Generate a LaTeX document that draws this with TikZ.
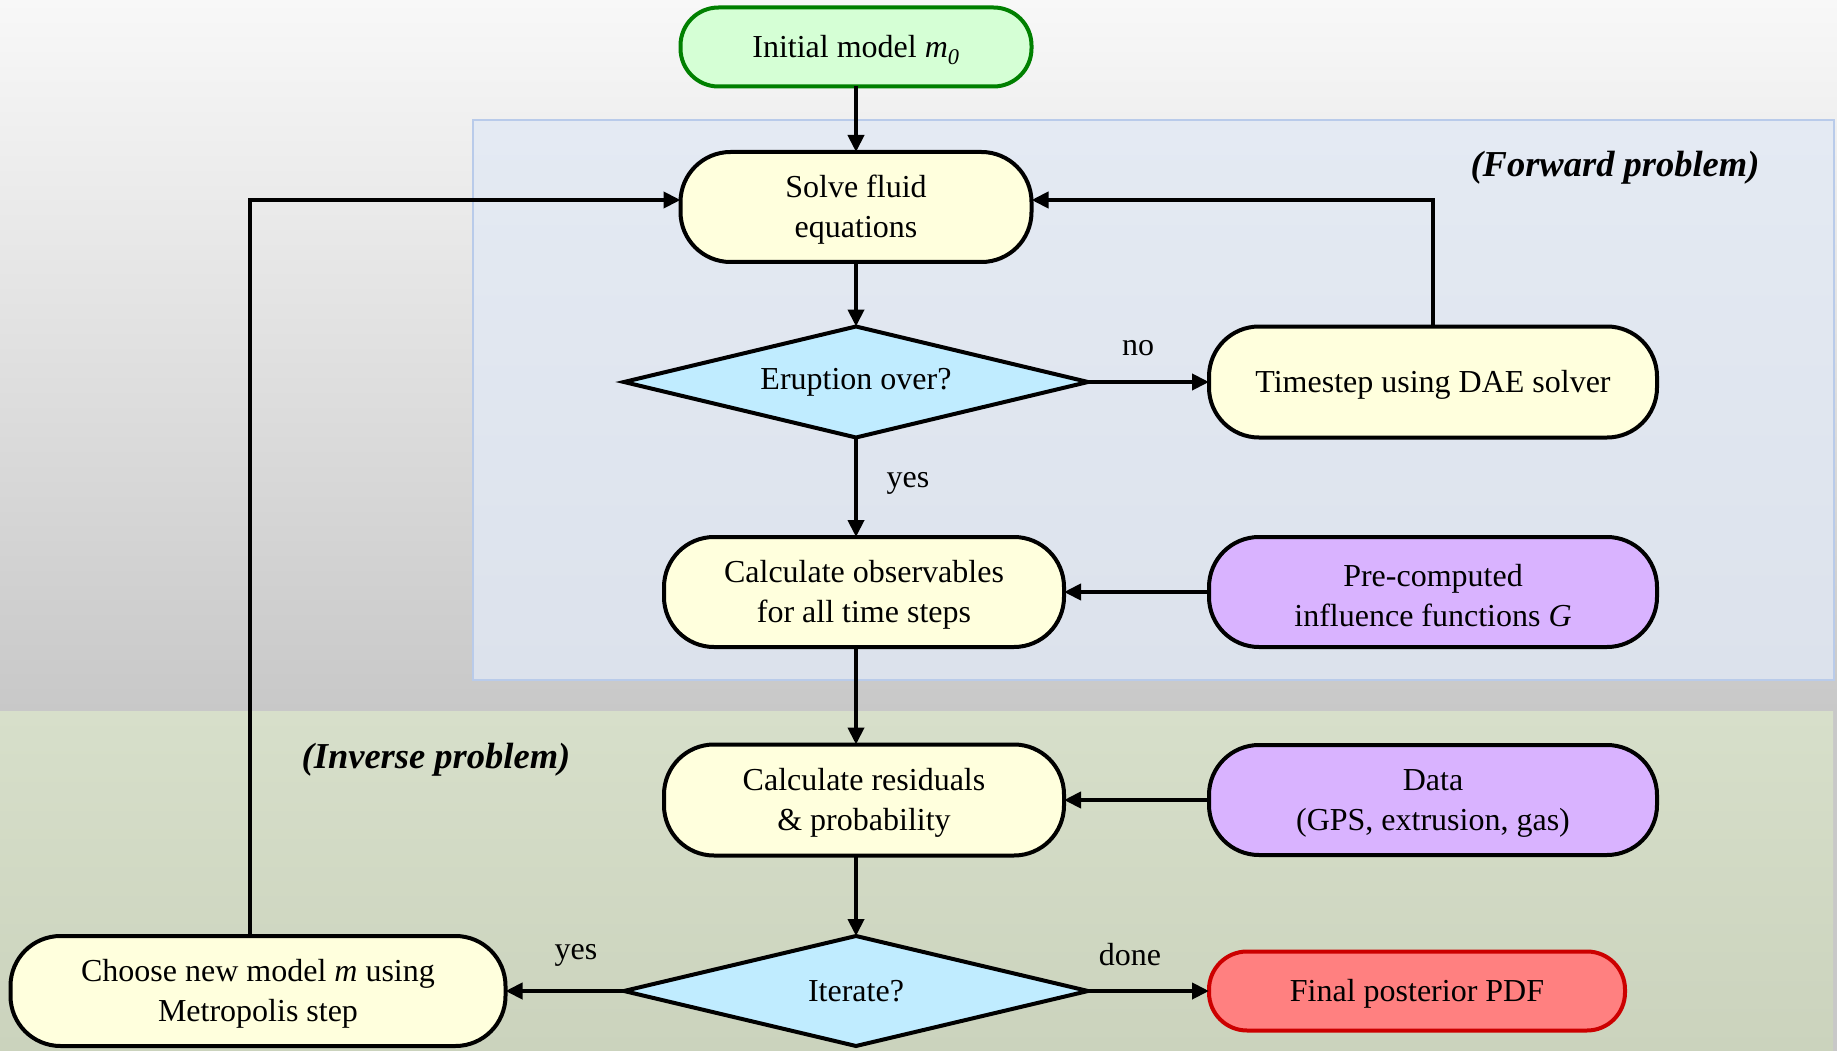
\documentclass[tikz,border=0pt]{standalone}
\usepackage{fontspec}
\setmainfont{Liberation Serif}
\usetikzlibrary{shapes.geometric,arrows.meta,calc}
\definecolor{bgtop}{RGB}{248,248,248}
\definecolor{bgbot}{RGB}{200,200,200}
\definecolor{grtop}{RGB}{215,223,202}
\definecolor{grbot}{RGB}{203,211,189}
\definecolor{fwdfill}{RGB}{228,234,243}
\definecolor{fwdfillb}{RGB}{220,226,236}
\definecolor{fwdline}{RGB}{185,203,234}
\definecolor{initfill}{RGB}{213,255,213}
\definecolor{initline}{RGB}{0,128,0}
\definecolor{procfill}{RGB}{255,255,221}
\definecolor{decfill}{RGB}{192,236,255}
\definecolor{inpfill}{RGB}{217,179,255}
\definecolor{endfill}{RGB}{255,128,128}
\definecolor{endline}{RGB}{204,0,0}
\newcommand{\liftline}{\rule{0pt}{28.5pt}}
\begin{document}
\begin{tikzpicture}[x=1pt,y=-1pt,
  base/.style={draw=black,line width=4pt,align=center,inner sep=0pt,outer sep=0pt,
    font=\fontsize{32}{40}\selectfont},
  stadium/.style={base,rectangle,rounded corners=50pt},
  proc/.style={stadium,fill=procfill},
  inp/.style={stadium,fill=inpfill},
  dec/.style={base,diamond,fill=decfill,aspect=4},
  flow/.style={line width=4pt,-{Triangle[length=17pt,width=16pt]}},
  lbl/.style={font=\fontsize{32}{40}\selectfont,inner sep=0pt},
  region/.style={font=\fontsize{36.5}{40}\selectfont\bfseries\itshape,inner sep=0pt}]
\useasboundingbox (0,0) rectangle (1837,1051);
% background
\shade[top color=bgtop,bottom color=bgbot] (0,0) rectangle (1837,711);
\fill[bgbot] (0,711) rectangle (1837,1051);
\shade[top color=grtop,bottom color=grbot] (0,711) rectangle (1833,1051);
\shade[top color=fwdfill,bottom color=fwdfillb,draw=fwdline,line width=2.5pt] (473,120) rectangle (1834,680);
\node[region] (fwd) at (1615,168) {(Forward problem)};
\node[region] (inv) at (436,760) {(Inverse problem)};
% nodes
\node[stadium,fill=initfill,draw=initline,minimum width=351pt,minimum height=79pt,rounded corners=38pt] (init) at (856,47) {\liftline Initial model \textit{m}\textsubscript{\textit{0}}};
\node[proc,minimum width=351pt,minimum height=110pt] (solve) at (856,207) {\liftline Solve fluid\\equations};
\node[dec,minimum width=464pt,minimum height=111pt] (erupt) at (856,382) {Eruption over?};
\node[proc,minimum width=448pt,minimum height=111pt] (time) at (1433,382) {\liftline Timestep using DAE solver};
\node[proc,minimum width=400pt,minimum height=110pt] (obs) at (864,592) {\liftline Calculate observables\\for all time steps};
\node[inp,minimum width=448pt,minimum height=110pt] (pre) at (1433,592) {\liftline Pre-computed\\influence functions \textit{G}};
\node[proc,minimum width=400pt,minimum height=111pt] (resid) at (864,800) {\liftline Calculate residuals\\\& probability};
\node[inp,minimum width=448pt,minimum height=110pt] (data) at (1433,800) {\liftline Data\\(GPS, extrusion, gas)};
\node[dec,minimum width=464pt,minimum height=110pt] (iter) at (856,991) {Iterate?};
\node[stadium,fill=endfill,draw=endline,minimum width=416pt,minimum height=79pt,rounded corners=38pt] (final) at (1417,991) {\liftline Final posterior PDF};
\node[proc,minimum width=495pt,minimum height=110pt] (choose) at (258,991) {\liftline Choose new model \textit{m} using\\Metropolis step};
% connectors
\draw[flow] (init) -- (solve);
\draw[flow] (solve) -- (erupt);
\draw[flow] (erupt.east) -- (time.west);
\node[lbl] (lno) at (1138,348) {no};
\draw[flow] (time.north) |- ([yshift=7pt]solve.east);
\draw[flow] (erupt.south) -- (erupt.south |- obs.north);
\node[lbl] (lyes1) at (908,483) {yes};
\draw[flow] (pre.west) -- (obs.east);
\draw[flow] (erupt.south |- obs.south) -- (erupt.south |- resid.north);
\draw[flow] (data.west) -- (resid.east);
\draw[flow] (erupt.south |- resid.south) -- (iter.north);
\draw[flow] (iter.east) -- (final.west);
\node[lbl] (ldone) at (1130,955) {done};
\draw[flow] (iter.west) -- (choose.east);
\node[lbl] (lyes2) at (576,955) {yes};
\draw[flow] ([xshift=-8pt]choose.north) |- ([yshift=7pt]solve.west);
\end{tikzpicture}
\end{document}
